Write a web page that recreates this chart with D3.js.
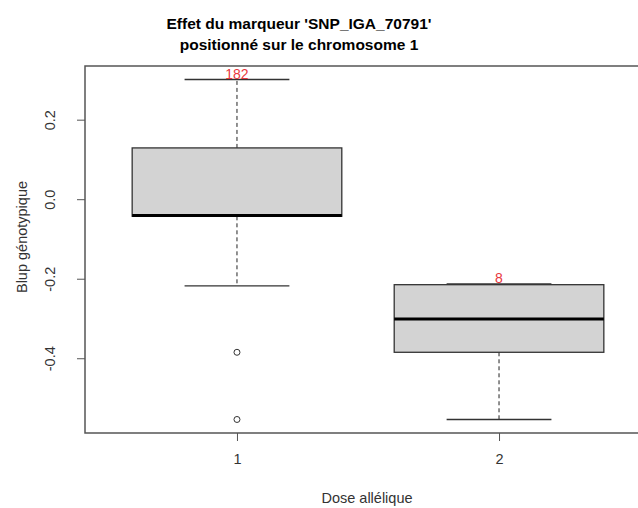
<!DOCTYPE html>
<html>
<head>
<meta charset="utf-8">
<script src="https://cdn.jsdelivr.net/npm/d3@7"></script>
<style>
  body { margin: 0; background: #fff; }
  svg { font-family: "Liberation Sans", Arial, sans-serif; }
</style>
</head>
<body>
<div id="container"></div>
<script>
const width = 638;
const height = 508;

// DATA
const doses = [1, 2];
const counts = [182, 8];
const whiskerLow = [-0.218, -0.554];
const q1 = [-0.043, -0.385];
const median = [-0.041, -0.301];
const q3 = [0.129, -0.215];
const whiskerHigh = [0.301, -0.213];
const outliers = [[-0.385, -0.554], []];
const yTicks = [-0.4, -0.2, 0.0, 0.2];

const svg = d3.select("div#container").append("svg")
    .attr("width", width)
    .attr("height", height);

svg.append("rect").attr("width", width).attr("height", height).attr("fill", "#fff");

// SCALES (R style: range extended by 4%)
const xScale = d3.scaleLinear().domain([0.42, 2.58]).range([85, 651]);
const yScale = d3.scaleLinear().domain([-0.588, 0.335]).range([433, 66]);

const axisCol = "#555";
const textCol = "#333";

// plot frame
svg.append("rect")
    .attr("x", xScale(0.42)).attr("y", yScale(0.335))
    .attr("width", xScale(2.58) - xScale(0.42))
    .attr("height", yScale(-0.588) - yScale(0.335))
    .attr("fill", "none").attr("stroke", axisCol).attr("stroke-width", 1.5);

// AXES
const yaxis = d3.axisLeft(yScale).tickValues(yTicks).tickSize(8)
    .tickFormat(d => d.toFixed(1));
const gy = svg.append("g").attr("transform", "translate(85,0)").call(yaxis);
gy.select(".domain").remove();
gy.selectAll("line").attr("stroke", axisCol);
gy.selectAll("text")
    .attr("fill", textCol).attr("font-size", 14.5)
    .attr("x", -35).attr("y", 0).attr("dy", "0.35em")
    .attr("transform", "rotate(-90,-35,0)")
    .style("text-anchor", "middle");

const xaxis = d3.axisBottom(xScale).tickValues(doses).tickSize(8).tickFormat(d3.format("d"));
const gx = svg.append("g").attr("transform", "translate(0,433)").call(xaxis);
gx.select(".domain").remove();
gx.selectAll("line").attr("stroke", axisCol);
gx.selectAll("text").attr("fill", textCol).attr("font-size", 14.5).attr("y", 21);

// BOXES
const halfW = 0.4;
const boxes = svg.selectAll("g.box").data(doses).enter().append("g").attr("class", "box");

boxes.append("line")
    .attr("x1", d => xScale(d)).attr("x2", d => xScale(d))
    .attr("y1", (d, i) => yScale(q3[i])).attr("y2", (d, i) => yScale(whiskerHigh[i]))
    .attr("stroke", "#222").attr("stroke-dasharray", "4,3");
boxes.append("line")
    .attr("x1", d => xScale(d)).attr("x2", d => xScale(d))
    .attr("y1", (d, i) => yScale(q1[i])).attr("y2", (d, i) => yScale(whiskerLow[i]))
    .attr("stroke", "#222").attr("stroke-dasharray", "4,3");

[whiskerHigh, whiskerLow].forEach(function (arr) {
    boxes.append("line")
        .attr("x1", d => xScale(d - halfW / 2)).attr("x2", d => xScale(d + halfW / 2))
        .attr("y1", (d, i) => yScale(arr[i])).attr("y2", (d, i) => yScale(arr[i]))
        .attr("stroke", "#333").attr("stroke-width", 1.3);
});

boxes.append("rect")
    .attr("x", d => xScale(d - halfW))
    .attr("width", d => xScale(d + halfW) - xScale(d - halfW))
    .attr("y", (d, i) => yScale(q3[i]))
    .attr("height", (d, i) => yScale(q1[i]) - yScale(q3[i]))
    .attr("fill", "#d3d3d3").attr("stroke", "#333").attr("stroke-width", 1.3);

boxes.append("line")
    .attr("x1", d => xScale(d - halfW)).attr("x2", d => xScale(d + halfW))
    .attr("y1", (d, i) => yScale(median[i])).attr("y2", (d, i) => yScale(median[i]))
    .attr("stroke", "#000").attr("stroke-width", 3);

boxes.each(function (d, i) {
    d3.select(this).selectAll("circle").data(outliers[i]).enter().append("circle")
        .attr("cx", xScale(d)).attr("cy", v => yScale(v)).attr("r", 3)
        .attr("fill", "none").attr("stroke", "#333").attr("stroke-width", 1);
});

boxes.append("text")
    .attr("x", d => xScale(d)).attr("y", (d, i) => yScale(whiskerHigh[i]) - 0.5)
    .attr("text-anchor", "middle").attr("font-size", 14).attr("fill", "#e8383d")
    .text((d, i) => counts[i]);

// TITLES
svg.append("text").attr("x", 299).attr("y", 29).attr("text-anchor", "middle")
    .attr("font-size", 15.5).attr("font-weight", "bold").attr("fill", "#000")
    .text("Effet du marqueur 'SNP_IGA_70791'");
svg.append("text").attr("x", 299).attr("y", 50).attr("text-anchor", "middle")
    .attr("font-size", 15.5).attr("font-weight", "bold").attr("fill", "#000")
    .text("positionné sur le chromosome 1");

svg.append("text").attr("x", 367).attr("y", 503).attr("text-anchor", "middle")
    .attr("font-size", 14.5).attr("fill", textCol).text("Dose allélique");

svg.append("text").attr("transform", "translate(27,237) rotate(-90)")
    .attr("text-anchor", "middle").attr("font-size", 14.5).attr("fill", textCol)
    .text("Blup génotypique");
</script>
</body>
</html>
